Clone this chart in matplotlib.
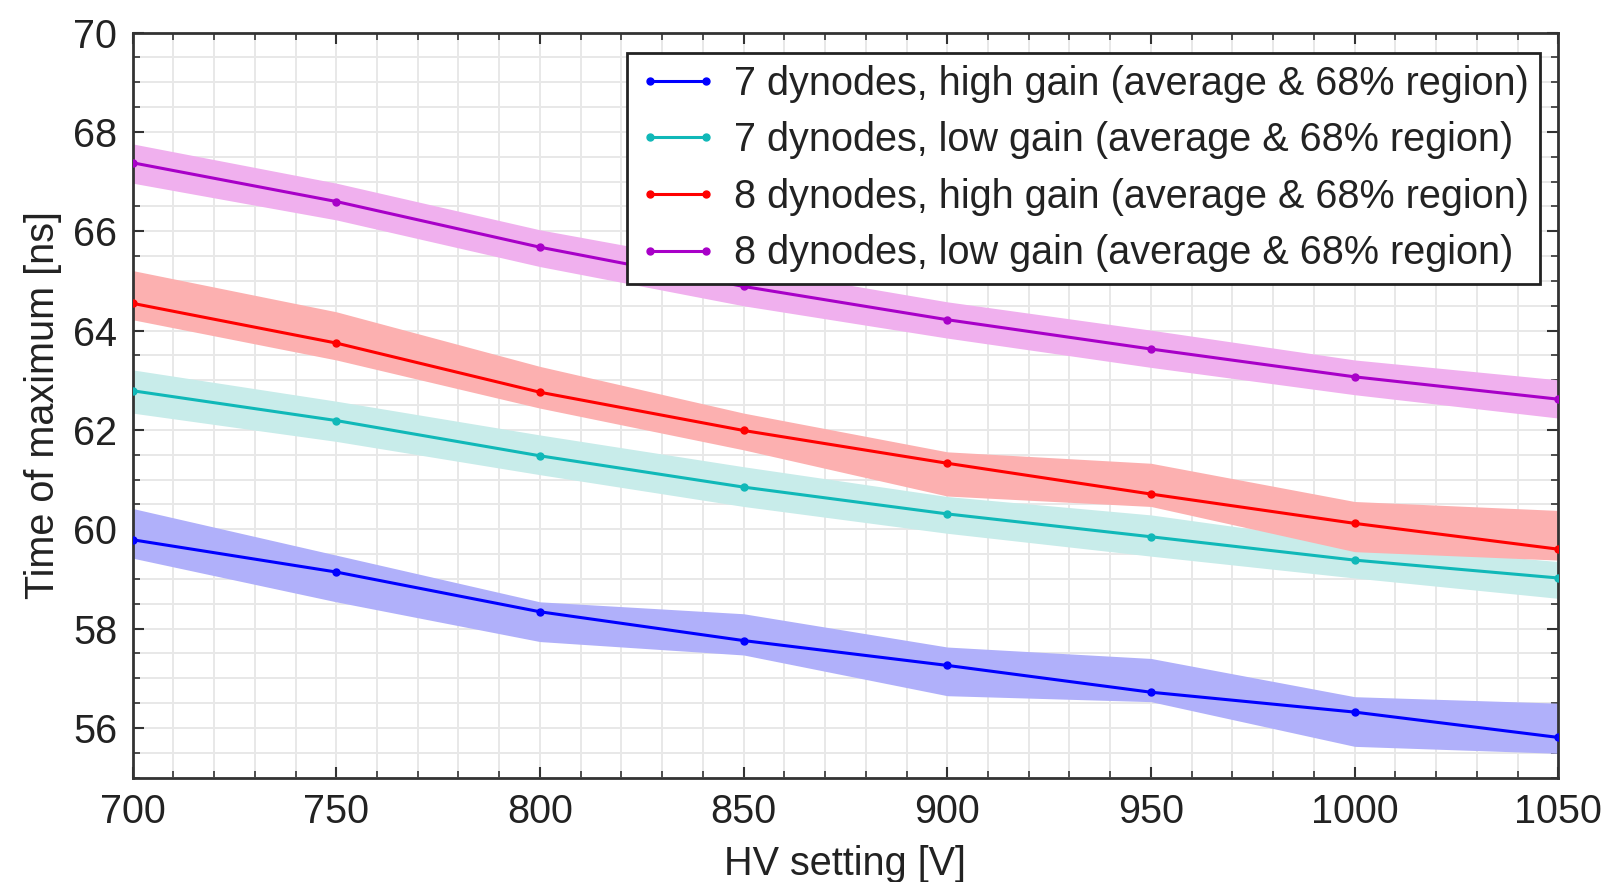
import matplotlib
matplotlib.use("Agg")
import matplotlib.pyplot as plt
from matplotlib.ticker import MultipleLocator

plt.rcParams['font.family'] = ['Liberation Sans', 'DejaVu Sans']

# HV settings [V]
hv = [700, 750, 800, 850, 900, 950, 1000, 1050]

# 7 dynodes, high gain: average and 68% region
d7_high = [59.79, 59.14, 58.34, 57.76, 57.26, 56.72, 56.32, 55.81]
d7_high_lo = [59.42, 58.54, 57.74, 57.47, 56.65, 56.53, 55.63, 55.49]
d7_high_hi = [60.42, 59.48, 58.54, 58.30, 57.63, 57.40, 56.63, 56.50]

# 7 dynodes, low gain
d7_low = [62.79, 62.19, 61.48, 60.85, 60.31, 59.85, 59.38, 59.02]
d7_low_lo = [62.34, 61.77, 61.10, 60.46, 59.92, 59.46, 59.02, 58.61]
d7_low_hi = [63.21, 62.58, 61.90, 61.26, 60.66, 60.29, 59.72, 59.35]

# 8 dynodes, high gain
d8_high = [64.55, 63.75, 62.76, 61.99, 61.33, 60.71, 60.12, 59.60]
d8_high_lo = [64.22, 63.41, 62.44, 61.60, 60.67, 60.46, 59.55, 59.38]
d8_high_hi = [65.21, 64.38, 63.28, 62.34, 61.56, 61.33, 60.56, 60.38]

# 8 dynodes, low gain
d8_low = [67.38, 66.60, 65.68, 64.89, 64.22, 63.63, 63.07, 62.62]
d8_low_lo = [66.97, 66.23, 65.29, 64.50, 63.85, 63.26, 62.71, 62.24]
d8_low_hi = [67.76, 66.97, 66.03, 65.28, 64.58, 64.01, 63.41, 63.01]

labels = ['7 dynodes, high gain (average & 68% region)',
          '7 dynodes, low gain (average & 68% region)',
          '8 dynodes, high gain (average & 68% region)',
          '8 dynodes, low gain (average & 68% region)']
line_colors = ['#0000ff', '#10b8b8', '#ff0000', '#a800c8']
band_colors = ['#b0b0fa', '#c8ecea', '#fcb0b0', '#f0b0ee']

series = [(d7_high, d7_high_lo, d7_high_hi),
          (d7_low, d7_low_lo, d7_low_hi),
          (d8_high, d8_high_lo, d8_high_hi),
          (d8_low, d8_low_lo, d8_low_hi)]

FS = 28.5

fig = plt.figure(figsize=(16.05, 8.82), dpi=100)
ax = fig.add_axes([0.0826, 0.1183, 0.8883, 0.8447])

# bands first, lines on top
for (avg, lo, hi), bc in zip(series, band_colors):
    ax.fill_between(hv, lo, hi, color=bc, linewidth=0, zorder=2)
for (avg, lo, hi), lc, lab in zip(series, line_colors, labels):
    ax.plot(hv, avg, color=lc, linewidth=2.2, marker='o', markersize=5,
            label=lab, zorder=3)

ax.set_xlim(700, 1050)
ax.set_ylim(55, 70)
ax.xaxis.set_major_locator(MultipleLocator(50))
ax.xaxis.set_minor_locator(MultipleLocator(10))
ax.yaxis.set_major_locator(MultipleLocator(2))
ax.yaxis.set_minor_locator(MultipleLocator(0.5))

ax.grid(which='both', color='#e8e8e8', linewidth=1.4, zorder=0)
ax.set_axisbelow(True)
ax.tick_params(which='both', direction='in', top=True, right=True,
               colors='#333333', labelcolor='#222222')
ax.tick_params(which='major', length=8, width=1.5, labelsize=FS, pad=11)
ax.tick_params(which='minor', length=5, width=1.2)
for sp in ax.spines.values():
    sp.set_linewidth(2)
    sp.set_color('#333333')

ax.set_xlabel('HV setting [V]', fontsize=FS, color='#222222', labelpad=10)
ax.set_ylabel('Time of maximum [ns]', fontsize=FS, color='#222222', labelpad=8)

leg = ax.legend(loc='upper right', bbox_to_anchor=(0.9875, 0.973), fontsize=FS,
                frameon=True, fancybox=False, framealpha=1, edgecolor='#222222',
                handlelength=2.0, handletextpad=0.4, borderpad=0.3,
                labelspacing=0.47, numpoints=2, borderaxespad=0)
leg.get_frame().set_linewidth(2)
for t in leg.get_texts():
    t.set_color('#222222')

fig.savefig('out.png', dpi=100)
